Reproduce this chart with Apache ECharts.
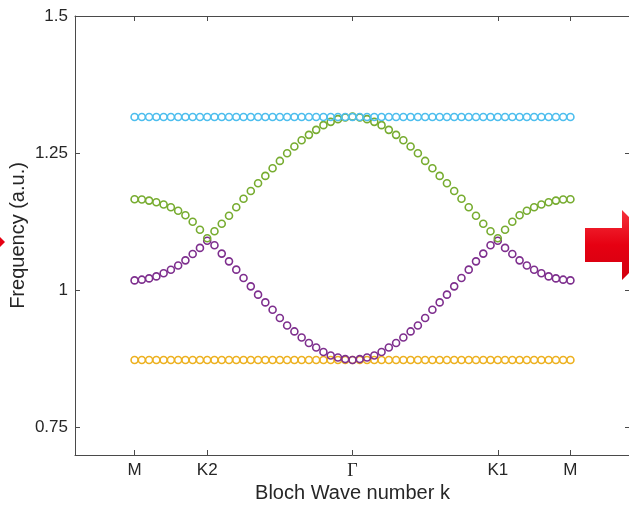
<!DOCTYPE html>
<html>
<head>
<meta charset="utf-8">
<script src="https://cdn.jsdelivr.net/npm/echarts@6/dist/echarts.min.js"></script>
<style>
  html, body { margin: 0; padding: 0; background: #fff; }
  #chart { width: 629px; height: 505px; }
</style>
</head>
<body>
<div id="chart"></div>
<script>
// k sample index 0..60 along M - K2 - Gamma - K1 - M
var kTickPos = [0, 10, 30, 50, 60];
var kTickLabels = ["M", "K2", "Γ", "K1", "M"];
var yTicks = [0.75, 1, 1.25, 1.5];

// band 1 (flat, lowest)
var band1 = [
  0.873, 0.873, 0.873, 0.873, 0.873, 0.873, 0.873, 0.873, 0.873, 0.873,
  0.873, 0.873, 0.873, 0.873, 0.873, 0.873, 0.873, 0.873, 0.873, 0.873,
  0.873, 0.873, 0.873, 0.873, 0.873, 0.873, 0.873, 0.873, 0.873, 0.873,
  0.873, 0.873, 0.873, 0.873, 0.873, 0.873, 0.873, 0.873, 0.873, 0.873,
  0.873, 0.873, 0.873, 0.873, 0.873, 0.873, 0.873, 0.873, 0.873, 0.873,
  0.873, 0.873, 0.873, 0.873, 0.873, 0.873, 0.873, 0.873, 0.873, 0.873,
  0.873
];
// band 2 (purple)
var band2 = [
  1.0182, 1.0195, 1.0218, 1.0255, 1.0312, 1.0375, 1.0452, 1.0547, 1.0662, 1.0774,
  1.0905, 1.0821, 1.0670, 1.0529, 1.0378, 1.0226, 1.0073, 0.9922, 0.9781, 0.9648,
  0.9496, 0.9361, 0.9252, 0.9142, 0.9040, 0.8960, 0.8876, 0.8814, 0.8777, 0.8748,
  0.8730, 0.8748, 0.8777, 0.8814, 0.8876, 0.8960, 0.9040, 0.9142, 0.9252, 0.9361,
  0.9496, 0.9648, 0.9781, 0.9922, 1.0073, 1.0226, 1.0378, 1.0529, 1.0670, 1.0821,
  1.0905, 1.0774, 1.0662, 1.0547, 1.0452, 1.0375, 1.0312, 1.0255, 1.0218, 1.0195,
  1.0182
];
// band 3 (green)
var band3 = [
  1.1661, 1.1655, 1.1636, 1.1605, 1.1565, 1.1515, 1.1452, 1.1370, 1.1250, 1.1105,
  1.0950, 1.1077, 1.1214, 1.1359, 1.1515, 1.1670, 1.1812, 1.1953, 1.2086, 1.2226,
  1.2359, 1.2500, 1.2622, 1.2737, 1.2834, 1.2925, 1.3011, 1.3071, 1.3120, 1.3151,
  1.3166, 1.3151, 1.3120, 1.3071, 1.3011, 1.2925, 1.2834, 1.2737, 1.2622, 1.2500,
  1.2359, 1.2226, 1.2086, 1.1953, 1.1812, 1.1670, 1.1515, 1.1359, 1.1214, 1.1077,
  1.0950, 1.1105, 1.1250, 1.1370, 1.1452, 1.1515, 1.1565, 1.1605, 1.1636, 1.1655,
  1.1661
];
// band 4 (flat, highest)
var band4 = [
  1.316, 1.316, 1.316, 1.316, 1.316, 1.316, 1.316, 1.316, 1.316, 1.316,
  1.316, 1.316, 1.316, 1.316, 1.316, 1.316, 1.316, 1.316, 1.316, 1.316,
  1.316, 1.316, 1.316, 1.316, 1.316, 1.316, 1.316, 1.316, 1.316, 1.316,
  1.316, 1.316, 1.316, 1.316, 1.316, 1.316, 1.316, 1.316, 1.316, 1.316,
  1.316, 1.316, 1.316, 1.316, 1.316, 1.316, 1.316, 1.316, 1.316, 1.316,
  1.316, 1.316, 1.316, 1.316, 1.316, 1.316, 1.316, 1.316, 1.316, 1.316,
  1.316
];

var bands = [band1, band2, band3, band4];
var bandColors = ["#EDB120", "#7E2F8E", "#77AC30", "#4DBEEE"];

var axisColor = "#4a4a4a";
var textColor = "#262626";
var fontFam = "Liberation Sans, Arial, sans-serif";

var myChart = echarts.init(document.getElementById("chart"));

function makeX(pos) {
  return {
    type: "value",
    position: pos,
    min: -8.2,
    max: 68.2,
    axisLine: { show: true, onZero: false, lineStyle: { color: axisColor, width: 1 } },
    axisTick: { show: true, inside: true, length: 5, customValues: kTickPos, lineStyle: { color: axisColor } },
    axisLabel: pos === "bottom" ? {
      show: true,
      customValues: kTickPos,
      margin: 7,
      color: textColor,
      fontFamily: fontFam,
      fontSize: 17,
      formatter: function (v) {
        var i = kTickPos.indexOf(Math.round(v));
        if (i < 0) return "";
        if (kTickLabels[i] === "Γ") return "{g|Γ}";
        return kTickLabels[i];
      },
      rich: { g: { fontFamily: "Liberation Serif, Times New Roman, serif", fontSize: 18, color: textColor } }
    } : { show: false },
    splitLine: { show: false },
    name: pos === "bottom" ? "Bloch Wave number k" : "",
    nameLocation: "middle",
    nameGap: 28,
    nameMoveOverlap: false,
    nameTextStyle: { color: textColor, fontFamily: fontFam, fontSize: 20 }
  };
}

function makeY(pos) {
  return {
    type: "value",
    position: pos,
    min: 0.7,
    max: 1.5,
    axisLine: { show: true, onZero: false, lineStyle: { color: axisColor, width: 1 } },
    axisTick: { show: true, inside: true, length: 5, customValues: yTicks, lineStyle: { color: axisColor } },
    axisLabel: pos === "left" ? {
      show: true,
      customValues: yTicks,
      margin: 7,
      color: textColor,
      fontFamily: fontFam,
      fontSize: 17
    } : { show: false },
    splitLine: { show: false },
    name: pos === "left" ? "Frequency (a.u.)" : "",
    nameLocation: "middle",
    nameGap: 47,
    nameMoveOverlap: false,
    nameTextStyle: { color: textColor, fontFamily: fontFam, fontSize: 20 }
  };
}

var series = bands.map(function (b, k) {
  return {
    type: "scatter",
    xAxisIndex: 0,
    yAxisIndex: 0,
    symbol: "circle",
    symbolSize: 7,
    silent: true,
    itemStyle: { color: "rgba(255,255,255,0)", borderColor: bandColors[k], borderWidth: 1.6, opacity: 1 },
    data: b.map(function (v, i) { return [i, v]; })
  };
});

var redGrad = new echarts.graphic.LinearGradient(0, 0, 0, 1, [
  { offset: 0, color: "#f5323c" },
  { offset: 0.5, color: "#e60012" },
  { offset: 1, color: "#d2000f" }
]);

var option = {
  backgroundColor: "#ffffff",
  animation: false,
  grid: { left: 75, top: 16, width: 555, height: 439, outerBoundsMode: "none", containLabel: false },
  xAxis: [makeX("bottom"), makeX("top")],
  yAxis: [makeY("left"), makeY("right")],
  series: series,
  graphic: [
    {
      type: "polygon",
      z: 100,
      shape: { points: [[585, 228], [622, 228], [622, 210], [657, 245], [622, 280], [622, 262], [585, 262]] },
      style: { fill: redGrad }
    },
    {
      type: "polygon",
      z: 100,
      shape: { points: [[-30, 207], [5, 242], [-30, 277]] },
      style: { fill: "#e60012" }
    }
  ]
};

myChart.setOption(option);
</script>
</body>
</html>
